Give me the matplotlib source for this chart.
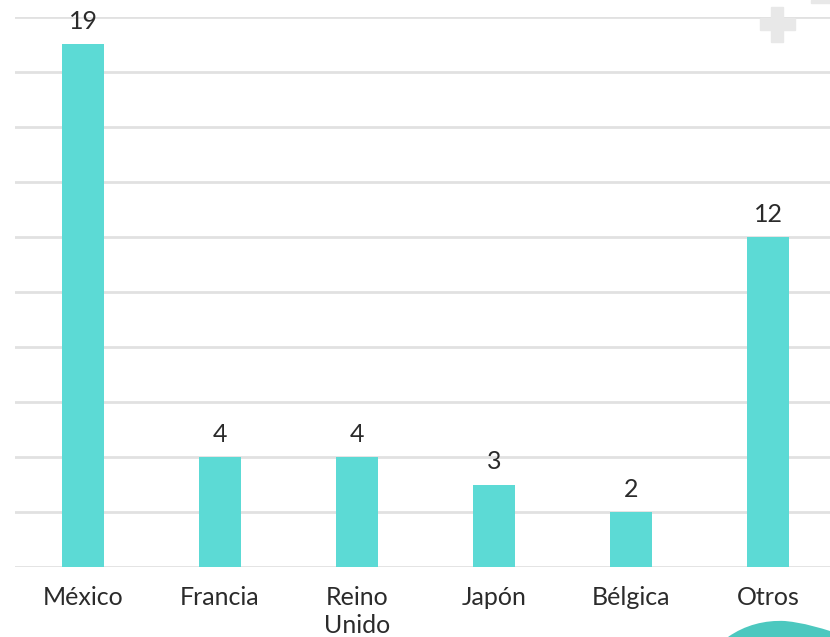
import matplotlib
matplotlib.use("Agg")
import matplotlib.pyplot as plt
import matplotlib.patches as mpatches
from matplotlib.path import Path

# Chart data
countries = ["México", "Francia", "Reino\nUnido", "Japón", "Bélgica", "Otros"]
counts = [19, 4, 4, 3, 2, 12]

BAR_COLOR = "#5cdad5"
GRID_COLOR = "#e1e1e1"
TEXT_COLOR = "#2b2b2b"

plt.rcParams["font.family"] = ["Lato", "DejaVu Sans"]

fig = plt.figure(figsize=(8.3, 6.37), dpi=100)

# axes spans slightly past the right edge, like the reference crop
left, right = 14.5 / 830, 836.5 / 830
bottom, top = (637 - 567) / 637, (637 - 17) / 637
ax = fig.add_axes([left, bottom, right - left, top - bottom])

x = list(range(len(countries)))
ax.bar(x, counts, width=0.31, color=BAR_COLOR, zorder=3)

for xi, v in zip(x, counts):
    ax.annotate(str(v), (xi, v), xytext=(0, 8), textcoords="offset points",
                ha="center", va="bottom", fontsize=18, color=TEXT_COLOR)

ax.set_xlim(-0.5, len(countries) - 0.5)
ax.set_ylim(0, 20)
ax.set_yticks(range(0, 21, 2))
ax.set_yticklabels([])
ax.yaxis.grid(True, color=GRID_COLOR, linewidth=2, zorder=0)
ax.tick_params(axis="y", length=0)
ax.set_xticks(x)
ax.set_xticklabels(countries, fontsize=18, color=TEXT_COLOR, linespacing=1.25)
ax.tick_params(axis="x", length=0, pad=14)
for s in ax.spines.values():
    s.set_visible(False)
ax.set_axisbelow(True)

# decorative plus icon (top right)
plus_color = "#e8e8e8"
fig.patches.append(mpatches.Rectangle((771 / 830, 1 - 42 / 637), 12 / 830, 35 / 637,
                                      transform=fig.transFigure, color=plus_color, zorder=5))
fig.patches.append(mpatches.Rectangle((760 / 830, 1 - 30 / 637), 35 / 830, 12 / 637,
                                      transform=fig.transFigure, color=plus_color, zorder=5))
fig.patches.append(mpatches.Rectangle((811 / 830, 1 - 3 / 637), 19 / 830, 3 / 637,
                                      transform=fig.transFigure, color=plus_color, zorder=5))

# decorative teal wave (bottom right)
verts = [(728, 637), (745, 625), (765, 620), (785, 621), (805, 623), (820, 628), (830, 631),
         (830, 637), (728, 637)]
codes = [Path.MOVETO, Path.CURVE4, Path.CURVE4, Path.CURVE4, Path.CURVE4, Path.CURVE4, Path.CURVE4,
         Path.LINETO, Path.CLOSEPOLY]
verts = [(vx / 830, 1 - vy / 637) for vx, vy in verts]
fig.patches.append(mpatches.PathPatch(Path(verts, codes), transform=fig.transFigure,
                                      facecolor="#4cc8bf", edgecolor="none", zorder=5))

fig.savefig("out.png", dpi=100)
